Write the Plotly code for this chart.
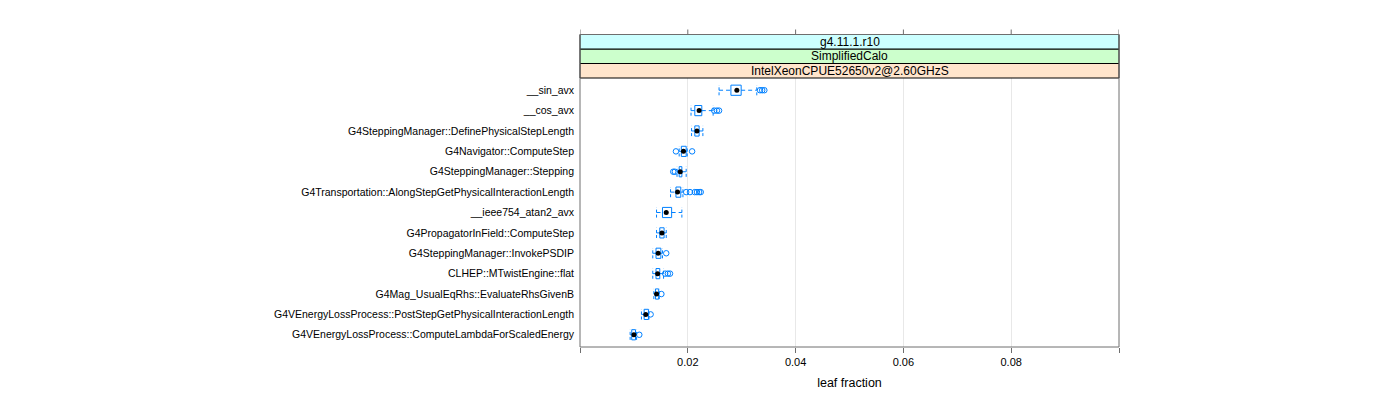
import plotly.graph_objects as go

categories = [
    "__sin_avx",
    "__cos_avx",
    "G4SteppingManager::DefinePhysicalStepLength",
    "G4Navigator::ComputeStep",
    "G4SteppingManager::Stepping",
    "G4Transportation::AlongStepGetPhysicalInteractionLength",
    "__ieee754_atan2_avx",
    "G4PropagatorInField::ComputeStep",
    "G4SteppingManager::InvokePSDIP",
    "CLHEP::MTwistEngine::flat",
    "G4Mag_UsualEqRhs::EvaluateRhsGivenB",
    "G4VEnergyLossProcess::PostStepGetPhysicalInteractionLength",
    "G4VEnergyLossProcess::ComputeLambdaForScaledEnergy",
]
whisker_low = [0.0258, 0.0206, 0.0207, 0.0184, 0.0180, 0.0168, 0.0142, 0.0142, 0.0135, 0.0135, 0.0137, 0.0114, 0.0093]
q1 = [0.0280, 0.0213, 0.0213, 0.0188, 0.0184, 0.0178, 0.0153, 0.0148, 0.0141, 0.0141, 0.0140, 0.0119, 0.0096]
median = [0.0291, 0.0221, 0.0217, 0.0192, 0.0186, 0.0181, 0.0160, 0.0152, 0.0145, 0.0144, 0.0142, 0.0122, 0.0100]
q3 = [0.0299, 0.0226, 0.0221, 0.0197, 0.0189, 0.0187, 0.0170, 0.0156, 0.0150, 0.0148, 0.0146, 0.0127, 0.0103]
whisker_high = [0.0328, 0.0247, 0.0228, 0.0199, 0.0197, 0.0191, 0.0189, 0.0160, 0.0153, 0.0155, 0.0147, 0.0128, 0.0105]
outliers = [
    [0.0334, 0.0338, 0.0342],
    [0.0249, 0.0254, 0.0258],
    [],
    [0.0178, 0.0208],
    [0.0173, 0.0176],
    [0.0197, 0.0204, 0.0213, 0.0217, 0.0221, 0.0224],
    [],
    [],
    [0.0160],
    [0.0158, 0.0163, 0.0167],
    [0.0151],
    [0.0131],
    [0.0110],
]
strip_labels = ["IntelXeonCPUE52650v2@2.60GHzS", "SimplifiedCalo", "g4.11.1.r10"]
strip_colors = ["#ffe5cc", "#ccffcc", "#ccffff"]
x_ticks = [0.0, 0.02, 0.04, 0.06, 0.08, 0.1]
x_tick_text = ["", "0.02", "0.04", "0.06", "0.08", ""]

BLUE = "#0080ff"
HB = 0.25  # half box height in category units
n = len(categories)
ypos = [n - i for i in range(n)]

box_x, box_y = [], []
wh_x, wh_y = [], []
cap_x, cap_y = [], []
out_x, out_y = [], []
for i, y in enumerate(ypos):
    box_x += [q1[i], q3[i], q3[i], q1[i], q1[i], None]
    box_y += [y - HB, y - HB, y + HB, y + HB, y - HB, None]
    wh_x += [whisker_low[i], q1[i], None, q3[i], whisker_high[i], None]
    wh_y += [y, y, None, y, y, None]
    cap_x += [whisker_low[i], whisker_low[i], None, whisker_high[i], whisker_high[i], None]
    cap_y += [y - HB, y + HB, None, y - HB, y + HB, None]
    for o in outliers[i]:
        out_x.append(o)
        out_y.append(y)

fig = go.Figure()
fig.add_trace(go.Scatter(x=wh_x, y=wh_y, mode="lines",
                         line=dict(color=BLUE, width=1, dash="4px,3px"), hoverinfo="skip"))
fig.add_trace(go.Scatter(x=cap_x, y=cap_y, mode="lines",
                         line=dict(color=BLUE, width=1, dash="3px,2px"), hoverinfo="skip"))
fig.add_trace(go.Scatter(x=box_x, y=box_y, mode="lines",
                         line=dict(color=BLUE, width=1), hoverinfo="skip"))
fig.add_trace(go.Scatter(x=out_x, y=out_y, mode="markers",
                         marker=dict(symbol="circle-open", size=5.5, color=BLUE, line=dict(width=1))))
fig.add_trace(go.Scatter(x=median, y=ypos, mode="markers",
                         marker=dict(symbol="circle", size=5, color="black")))

# strips above the panel (paper coords: 1 = panel top)
panel_h = 269.0
sh = 14.5 / panel_h
shapes = []
annotations = []
for k, (lab, col) in enumerate(zip(strip_labels, strip_colors)):
    y0 = 1 + k * sh
    y1 = 1 + (k + 1) * sh
    shapes.append(dict(type="rect", xref="paper", yref="paper", x0=0, x1=1, y0=y0, y1=y1,
                       fillcolor=col, line=dict(color="black", width=1), layer="above"))
    annotations.append(dict(text=lab, xref="paper", yref="paper", x=0.5, y=(y0 + y1) / 2,
                            showarrow=False, font=dict(size=12, color="black"),
                            xanchor="center", yanchor="middle"))
top = 1 + 3 * sh
# outer frame
shapes.append(dict(type="rect", xref="paper", yref="paper", x0=0, x1=1, y0=0, y1=top,
                   line=dict(color="#6e6e6e", width=1), layer="above"))
# top ticks
for t in x_ticks:
    shapes.append(dict(type="line", xref="x", yref="paper", x0=t, x1=t, y0=top, y1=top + 5 / panel_h,
                       line=dict(color="#6e6e6e", width=1)))

fig.update_layout(
    width=1400, height=400,
    margin=dict(l=572, r=289, t=70, b=61),
    plot_bgcolor="white", paper_bgcolor="white",
    showlegend=False,
    font=dict(family="Liberation Sans, Arial, sans-serif", size=10, color="black"),
    shapes=shapes, annotations=annotations,
    xaxis=dict(range=[0, 0.1], tickvals=x_ticks, ticktext=x_tick_text,
               showgrid=True, gridcolor="#e8e8e8", gridwidth=1, zeroline=False,
               ticks="outside", ticklen=5, tickcolor="#6e6e6e", showline=False,
               tickfont=dict(size=11), title=dict(text="leaf fraction", font=dict(size=12.5), standoff=11)),
    yaxis=dict(range=[0.4, n + 0.6], tickvals=ypos, ticktext=categories,
               showgrid=False, zeroline=False, ticks="", showline=False,
               ticklabelstandoff=5, tickfont=dict(size=10.5)),
)

fig.write_html("out.html")
